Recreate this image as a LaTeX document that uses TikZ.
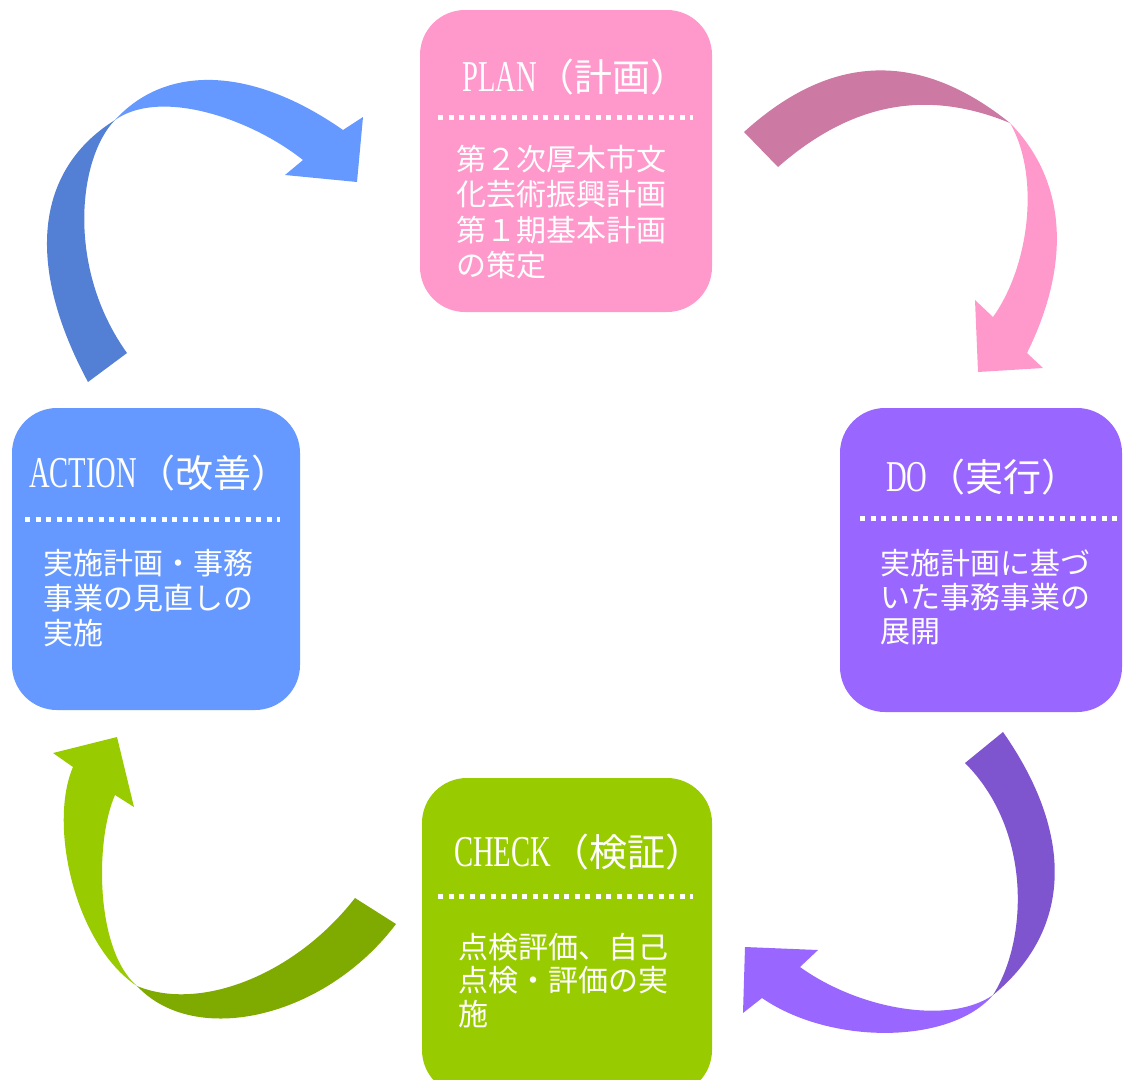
\documentclass[tikz,border=0pt]{standalone}
\usepackage{fontspec}
\setmainfont{Noto Sans CJK JP}
\newfontfamily\tlatfont[FakeStretch=0.65]{Liberation Serif}
\newcommand\tlat{\tlatfont\fontsize{44}{44}\selectfont}
\definecolor{planc}{HTML}{FF99CC}
\definecolor{plandk}{HTML}{CC79A3}
\definecolor{doc}{HTML}{9966FF}
\definecolor{dodk}{HTML}{7E55CE}
\definecolor{actc}{HTML}{6699FF}
\definecolor{actdk}{HTML}{5380D4}
\definecolor{chkc}{HTML}{99CC00}
\definecolor{chkdk}{HTML}{7FAA00}
\tikzset{
  pbox/.style={rounded corners=45pt, inner sep=0pt, draw=none},
  ptitle/.style={anchor=west, inner sep=0pt, text=white, font=\fontsize{38}{40}\selectfont},
  pbody/.style={anchor=base west, inner sep=0pt, text=white, text width=270pt, align=left},
  pdots/.style={white, line width=5pt, dash pattern=on 5pt off 5.5pt},
}
\begin{document}
\begin{tikzpicture}[x=1pt,y=-1pt]
\useasboundingbox (0,0) rectangle (1123,1079);
\fill[white] (0,0) rectangle (1123,1079);

% boxes
\node[pbox, fill=planc, minimum width=292pt, minimum height=302pt] (plan) at (566,161) {};
\node[pbox, fill=doc, minimum width=282pt, minimum height=304pt] (do) at (981,560) {};
\node[pbox, fill=actc, minimum width=288pt, minimum height=302pt] (action) at (156,559) {};
\node[pbox, fill=chkc, minimum width=290pt, minimum height=317pt] (check) at (567,936.5) {};

% titles
\node[ptitle] (plan-title) at (462,77) {{\tlat PLAN}（計画）};
\node[ptitle] (do-title) at (886,477) {{\tlat DO}（実行）};
\node[ptitle] (action-title) at (29,473) {{\tlat ACTION}（改善）};
\node[ptitle] (check-title) at (454,852) {{\tlat CHECK}（検証）};

% dotted separators
\draw[pdots] (438,117) -- (693,117);
\draw[pdots] (860,518) -- (1118,518);
\draw[pdots] (25,519) -- (280,519);
\draw[pdots] (438,896) -- (693,896);

% bodies
\node[pbody, font=\fontsize{30}{35.5}\selectfont] (plan-body) at (456,170)
  {第２次厚木市文\\化芸術振興計画\\第１期基本計画\\の策定};
\node[pbody, font=\fontsize{30}{34}\selectfont] (do-body) at (880,574)
  {実施計画に基づ\\いた事務事業の\\展開};
\node[pbody, font=\fontsize{30}{35}\selectfont] (action-body) at (43,574)
  {実施計画・事務\\事業の見直しの\\実施};
\node[pbody, font=\fontsize{30}{33.5}\selectfont] (check-body) at (458,958)
  {点検評価、自己\\点検・評価の実\\施};

% PLAN -> DO arrow
\coordinate (p-tw) at (1010,123);
\fill[plandk] (744,132) .. controls (831,53) and (919,50) .. (p-tw)
  .. controls (925,88) and (850,104) .. (778,167) -- cycle;
\fill[planc] (p-tw) .. controls (1066,180) and (1072,262) .. (1027,353)
  -- (1043,368) -- (978,372) -- (975,300) -- (993,317)
  .. controls (1030,265) and (1040,175) .. (p-tw) -- cycle;

% DO -> CHECK arrow
\coordinate (d-tw) at (993,995);
\fill[dodk] (1003,732) .. controls (1075,835) and (1072,930) .. (d-tw)
  .. controls (1028,940) and (1032,830) .. (965,763) -- cycle;
\fill[doc] (d-tw) .. controls (950,1045) and (830,1045) .. (762,998)
  -- (743,1013) -- (745,947) -- (818,950) -- (800,967)
  .. controls (860,1010) and (950,1025) .. (d-tw) -- cycle;

% CHECK -> ACTION arrow
\coordinate (c-tw) at (137,986);
\fill[chkdk] (396,924) .. controls (325,1018) and (195,1048) .. (c-tw)
  .. controls (200,1012) and (295,975) .. (355,898) -- cycle;
\fill[chkc] (c-tw) .. controls (75,945) and (48,825) .. (73,767)
  -- (53,753) -- (117,737) -- (134,807) -- (115,795)
  .. controls (95,840) and (95,950) .. (c-tw) -- cycle;

% ACTION -> PLAN arrow
\coordinate (a-tw) at (115,120);
\fill[actdk] (88,382) .. controls (25,265) and (35,170) .. (a-tw)
  .. controls (78,158) and (66,268) .. (127,353) -- cycle;
\fill[actc] (a-tw) .. controls (165,65) and (250,65) .. (343,130)
  -- (363,117) -- (357,182) -- (285,175) -- (303,160)
  .. controls (250,118) and (160,88) .. (a-tw) -- cycle;
\end{tikzpicture}
\end{document}
